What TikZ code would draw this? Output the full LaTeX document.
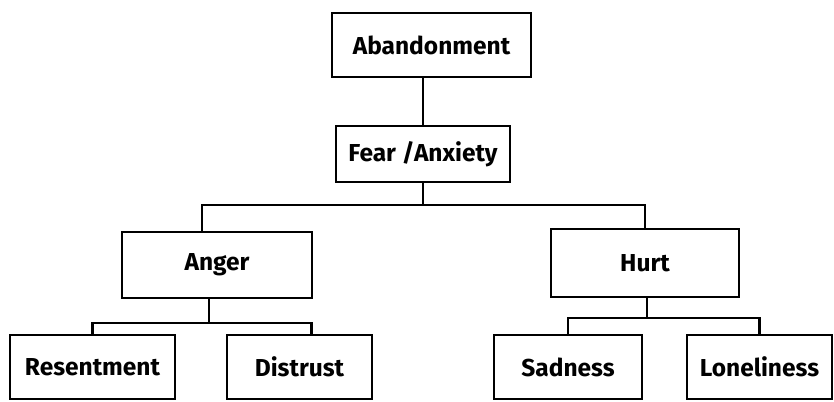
\documentclass[tikz,border=0pt]{standalone}
\usepackage{fontspec}
\setmainfont{Fira Sans}
\usetikzlibrary{positioning}

\begin{document}
\begin{tikzpicture}[x=1pt,y=-1pt,line width=2.4pt,font=\fontsize{24.5}{28}\selectfont\bfseries]
  \tikzstyle{box}=[draw=black,fill=none,text=black,inner sep=0pt]
  \useasboundingbox (0,0) rectangle (834,401);

  \node[box,minimum width=199pt,minimum height=64pt] (aband)    at (431.5,45)  {Abandonment};
  \node[box,minimum width=174pt,minimum height=56pt] (fear)     at (423,154)   {Fear /Anxiety};
  \node[box,minimum width=190pt,minimum height=66pt] (anger)    at (217,265)   {Anger};
  \node[box,minimum width=188pt,minimum height=68pt] (hurt)     at (645,263)   {Hurt};
  \node[box,minimum width=165pt,minimum height=64pt] (resent)   at (92.5,367)  {Resentment};
  \node[box,minimum width=145pt,minimum height=64pt] (distrust) at (299.5,367) {Distrust};
  \node[box,minimum width=148pt,minimum height=64pt] (sad)      at (568,367)   {Sadness};
  \node[box,minimum width=145pt,minimum height=64pt] (lonely)   at (759.5,367) {Loneliness};

  \coordinate (fbus) at (423,205);
  \coordinate (abus) at (209,323);
  \coordinate (hbus) at (647,318);

  \draw (fear.north) -- (fear.north |- aband.south);
  \draw (fear.south) -- (fbus);
  \draw ([xshift=-15pt]anger.north) |- (fbus) -| (hurt.north);
  \draw (anger.south -| abus) -- (abus);
  \draw (resent.north) |- (abus) -| ([xshift=12pt]distrust.north);
  \draw (hurt.south -| hbus) -- (hbus);
  \draw (sad.north) |- (hbus) -| (lonely.north);
\end{tikzpicture}
\end{document}
